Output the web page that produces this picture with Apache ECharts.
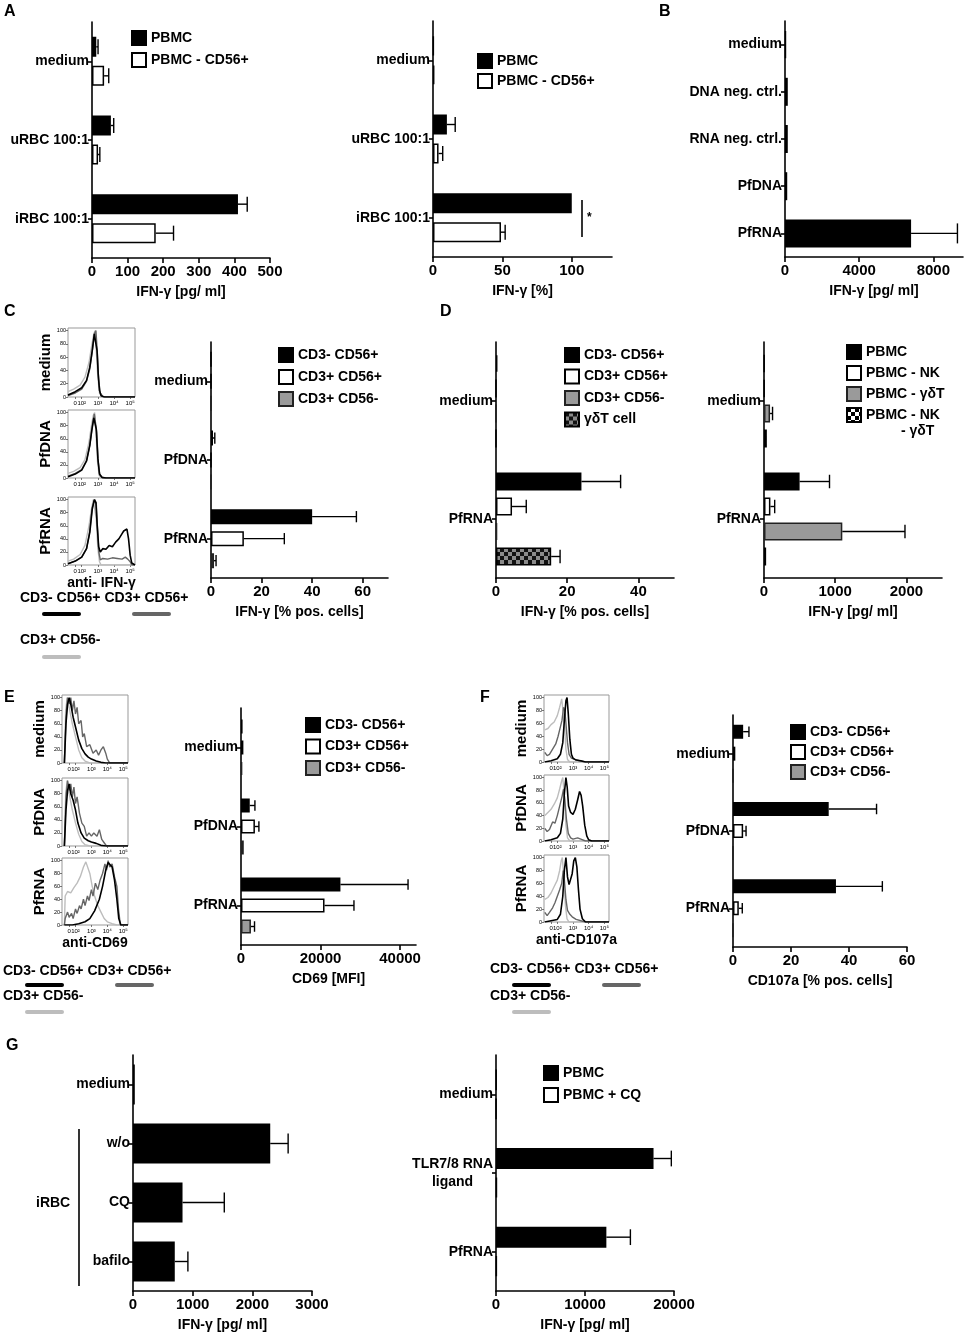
<!DOCTYPE html>
<html>
<head>
<meta charset="utf-8">
<script src="https://cdn.jsdelivr.net/npm/echarts@6/dist/echarts.min.js"></script>
<style>
  html, body { margin: 0; background: #fff; }
  #chart { width: 966px; height: 1339px; }
</style>
</head>
<body>
<div id="chart"></div>
<script>
const FONT = '"Liberation Sans", Arial, sans-serif';

// ---- A: IFN-γ, PBMC vs PBMC depleted of CD56+ ----
const catsA = ['medium', 'uRBC 100:1', 'iRBC 100:1'];
const a1Pbmc = [12, 53, 410];
const a1PbmcSd = [5, 8, 26];
const a1Depl = [34, 17, 179];
const a1DeplSd = [13, 5, 50];
const a2Pbmc = [0.5, 10, 100];
const a2PbmcSd = [0, 6, 0];
const a2Depl = [1, 4, 49];
const a2DeplSd = [0, 3, 3];

// ---- B ----
const catsB = ['medium', 'DNA neg. ctrl.', 'RNA neg. ctrl.', 'PfDNA', 'PfRNA'];
const bPbmc = [50, 150, 150, 120, 6800];
const bPbmcSd = [0, 0, 0, 0, 2500];

// ---- C / E / F bar parts ----
const catsCEF = ['medium', 'PfDNA', 'PfRNA'];
const cNk = [0, 0.8, 40], cNkSd = [0, 0.7, 17.5];
const cNkt = [0, 0, 13], cNktSd = [0, 0, 16];
const cT = [0, 0, 1.2], cTSd = [0, 0, 0.8];

const eNk = [400, 2200, 25000], eNkSd = [0, 1300, 17000];
const eNkt = [600, 3500, 21000], eNktSd = [0, 1000, 7400];
const eT = [300, 700, 2500], eTSd = [0, 200, 900];

const fNk = [3.5, 33, 35.5], fNkSd = [2, 16.5, 16];
const fNkt = [0.8, 3.5, 2], fNktSd = [0, 1, 1.2];
const fT = [0, 0, 0], fTSd = [0, 0, 0];

// ---- D ----
const catsD = ['medium', 'PfRNA'];
const d1Nk = [0.4, 24], d1NkSd = [0, 11];
const d1Nkt = [0, 4.5], d1NktSd = [0, 4];
const d1T = [0, 0.3], d1TSd = [0, 0];
const d1Gd = [0, 15.5], d1GdSd = [0, 2.5];
const d2Pbmc = [5, 500], d2PbmcSd = [0, 420];
const d2Nk = [5, 90], d2NkSd = [0, 60];
const d2Gd = [85, 1100], d2GdSd = [35, 880];
const d2Both = [40, 30], d2BothSd = [10, 10];

// ---- G ----
const catsG1 = ['medium', 'w/o', 'CQ', 'bafilo'];
const g1Pbmc = [30, 2300, 830, 700];
const g1PbmcSd = [10, 300, 700, 220];
const catsG2 = ['medium', 'TLR7/8 RNA\nligand', 'PfRNA'];
const g2Pbmc = [40, 17700, 12400], g2PbmcSd = [0, 2000, 2700];
const g2Cq = [20, 100, 80], g2CqSd = [0, 0, 0];

// ---- flow histograms: x in decades (10^2 -> 2), y in % of max ----
const histTicks = [1.6, 2, 3, 4, 5];
const histTickText = ['0', '10²', '10³', '10⁴', '10⁵'];

const cMedBlk = [[1.15,3],[1.6,8],[2.0,14],[2.3,25],[2.5,45],[2.65,70],[2.78,95],[2.86,97],[2.95,70],[3.02,35],[3.1,10],[3.2,2],[3.4,0],[5.3,0]];
const cMedDk = [[1.15,2],[1.6,6],[2.0,12],[2.3,24],[2.5,42],[2.65,68],[2.8,96],[2.88,100],[2.97,65],[3.05,25],[3.15,6],[3.3,1],[3.5,0],[5.3,0]];
const cMedLt = [[1.15,8],[1.5,12],[1.9,18],[2.2,30],[2.45,52],[2.6,75],[2.75,95],[2.82,100],[2.9,70],[3.0,30],[3.1,6],[3.25,0],[5.3,0]];
const cDnaBlk = [[1.15,2],[1.6,6],[2.0,12],[2.3,26],[2.5,50],[2.62,72],[2.75,92],[2.82,95],[2.9,75],[3.0,30],[3.1,6],[3.25,1],[3.5,0],[5.3,0]];
const cDnaDk = [[1.15,3],[1.6,7],[2.0,13],[2.3,27],[2.5,50],[2.65,78],[2.78,98],[2.85,100],[2.93,70],[3.02,25],[3.12,5],[3.3,0],[5.3,0]];
const cDnaLt = [[1.15,7],[1.5,10],[1.9,16],[2.2,28],[2.45,55],[2.6,80],[2.72,96],[2.8,100],[2.88,70],[2.98,25],[3.08,4],[3.2,0],[5.3,0]];
const cRnaBlk = [[1.15,2],[1.6,6],[2.0,12],[2.3,25],[2.5,50],[2.65,85],[2.78,100],[2.88,95],[2.96,60],[3.05,28],[3.15,20],[3.3,25],[3.5,24],[3.7,30],[3.9,28],[4.1,35],[4.3,40],[4.5,48],[4.6,52],[4.7,50],[4.8,55],[4.9,40],[5.0,15],[5.1,3],[5.2,0],[5.3,0]];
const cRnaDk = [[1.15,2],[1.6,6],[2.0,12],[2.3,25],[2.5,52],[2.65,88],[2.8,100],[2.9,95],[2.98,55],[3.06,20],[3.15,8],[3.3,10],[3.6,9],[3.9,11],[4.2,10],[4.5,9],[4.7,12],[4.85,9],[5.0,5],[5.1,0],[5.3,0]];
const cRnaLt = [[1.15,6],[1.5,9],[1.9,16],[2.2,30],[2.45,60],[2.6,85],[2.72,100],[2.82,98],[2.9,70],[3.0,25],[3.1,5],[3.2,0],[5.3,0]];

const eMedBlk = [[1.3,0],[1.4,60],[1.5,90],[1.6,100],[1.7,90],[1.85,70],[2.0,55],[2.2,35],[2.4,22],[2.6,14],[2.8,9],[3.0,6],[3.3,3],[3.6,1],[3.9,0],[5.3,0]];
const eMedDk = [[1.3,0],[1.4,70],[1.5,100],[1.6,90],[1.7,100],[1.8,80],[1.9,95],[2.0,75],[2.1,85],[2.2,60],[2.35,65],[2.45,40],[2.55,45],[2.7,25],[2.9,28],[3.1,15],[3.3,20],[3.45,12],[3.6,20],[3.75,25],[3.9,15],[4.0,6],[4.15,0],[5.3,0]];
const eMedLt = [[1.3,0],[1.38,80],[1.48,100],[1.6,85],[1.8,60],[2.0,40],[2.2,20],[2.4,8],[2.6,3],[2.9,0],[5.3,0]];
const eDnaBlk = [[1.3,0],[1.4,55],[1.5,85],[1.6,95],[1.7,80],[1.85,70],[2.0,55],[2.15,35],[2.35,20],[2.55,12],[2.8,8],[3.0,6],[3.3,4],[3.6,1],[3.9,0],[5.3,0]];
const eDnaDk = [[1.3,0],[1.4,75],[1.5,100],[1.6,85],[1.7,95],[1.8,75],[1.9,90],[2.0,65],[2.1,75],[2.25,50],[2.4,35],[2.55,30],[2.7,15],[2.85,20],[3.0,15],[3.15,20],[3.35,15],[3.5,25],[3.65,10],[3.8,5],[3.95,0],[5.3,0]];
const eDnaLt = [[1.3,0],[1.38,80],[1.48,100],[1.6,80],[1.8,55],[2.0,35],[2.2,18],[2.4,7],[2.6,2],[2.9,0],[5.3,0]];
const eRnaBlk = [[1.3,0],[1.8,0],[2.2,2],[2.6,5],[2.9,10],[3.2,22],[3.5,40],[3.7,60],[3.9,85],[4.05,97],[4.15,100],[4.3,90],[4.45,70],[4.6,40],[4.72,10],[4.85,0],[5.3,0]];
const eRnaDk = [[1.3,0],[1.35,10],[1.5,20],[1.6,12],[1.75,18],[1.85,10],[2.0,25],[2.1,18],[2.25,30],[2.35,25],[2.5,40],[2.6,30],[2.75,45],[2.85,38],[3.0,55],[3.1,45],[3.25,65],[3.4,55],[3.55,70],[3.7,80],[3.85,95],[3.95,85],[4.05,100],[4.15,90],[4.3,95],[4.45,75],[4.6,60],[4.7,25],[4.82,0],[5.3,0]];
const eRnaLt = [[1.3,0],[1.35,45],[1.5,52],[1.7,50],[1.9,58],[2.1,65],[2.3,75],[2.5,90],[2.65,98],[2.75,95],[2.9,80],[3.05,60],[3.2,45],[3.4,30],[3.6,20],[3.8,10],[4.0,5],[4.3,2],[4.6,0],[5.3,0]];

const fMedBlk = [[1.2,0],[1.6,2],[2.0,5],[2.2,12],[2.35,30],[2.45,65],[2.55,95],[2.62,100],[2.7,75],[2.8,35],[2.9,12],[3.0,6],[3.2,3],[3.5,2],[3.8,0],[5.3,0]];
const fMedDk = [[1.2,15],[1.35,10],[1.5,12],[1.7,20],[1.9,28],[2.05,40],[2.2,55],[2.3,65],[2.4,85],[2.48,80],[2.55,60],[2.65,30],[2.75,12],[2.9,6],[3.1,4],[3.4,2],[3.8,0],[5.3,0]];
const fMedLt = [[1.2,50],[1.4,52],[1.6,58],[1.8,62],[2.0,72],[2.15,85],[2.28,98],[2.35,95],[2.45,60],[2.55,20],[2.65,4],[2.8,0],[5.3,0]];
const fDnaBlk = [[1.2,0],[1.6,2],[2.0,5],[2.2,12],[2.35,35],[2.45,75],[2.55,100],[2.63,85],[2.72,55],[2.85,45],[3.0,42],[3.15,50],[3.3,65],[3.42,78],[3.52,72],[3.62,55],[3.75,25],[3.88,8],[4.0,2],[4.2,0],[5.3,0]];
const fDnaDk = [[1.2,20],[1.35,15],[1.5,18],[1.7,30],[1.85,28],[2.0,40],[2.15,55],[2.3,70],[2.4,82],[2.48,65],[2.58,35],[2.7,12],[2.85,5],[3.0,3],[3.3,5],[3.5,3],[3.8,0],[5.3,0]];
const fDnaLt = [[1.2,40],[1.4,45],[1.6,50],[1.8,58],[2.0,68],[2.15,82],[2.28,95],[2.35,100],[2.45,70],[2.55,25],[2.65,5],[2.8,0],[5.3,0]];
const fRnaBlk = [[1.2,0],[1.6,2],[2.0,4],[2.2,12],[2.35,40],[2.45,80],[2.55,100],[2.65,70],[2.75,58],[2.85,60],[2.95,75],[3.05,95],[3.15,100],[3.25,85],[3.35,50],[3.45,20],[3.6,5],[3.8,0],[5.3,0]];
const fRnaDk = [[1.2,15],[1.35,10],[1.5,15],[1.7,22],[1.85,30],[2.0,40],[2.15,50],[2.28,60],[2.38,80],[2.45,65],[2.55,35],[2.65,18],[2.8,12],[2.95,8],[3.2,4],[3.5,2],[3.8,0],[5.3,0]];
const fRnaLt = [[1.2,35],[1.4,38],[1.6,45],[1.8,55],[2.0,65],[2.15,80],[2.25,95],[2.32,100],[2.42,70],[2.52,25],[2.62,5],[2.75,0],[5.3,0]];

// ---------------------------------------------------------------
function checker(c1, c2, s) {
  const cv = document.createElement('canvas');
  cv.width = cv.height = 2 * s;
  const ctx = cv.getContext('2d');
  ctx.fillStyle = c1; ctx.fillRect(0, 0, 2 * s, 2 * s);
  ctx.fillStyle = c2; ctx.fillRect(0, 0, s, s); ctx.fillRect(s, s, s, s);
  return cv;
}

const sBlack = { color: '#000', borderColor: '#000', borderWidth: 1.5 };
const sWhite = { color: '#fff', borderColor: '#000', borderWidth: 1.5 };
const sGray = { color: '#9a9a9a', borderColor: '#222', borderWidth: 1.5 };
const sCheckGray = { color: { image: checker('#8a8a8a', '#111', 4), repeat: 'repeat' }, borderColor: '#000', borderWidth: 1.5 };
const sCheckWhite = { color: { image: checker('#fff', '#000', 4), repeat: 'repeat' }, borderColor: '#000', borderWidth: 1.5 };

const grids = [], xAxes = [], yAxes = [], series = [], legends = [], graphics = [];
const txt = { color: '#000', fontFamily: FONT, fontWeight: 'bold' };

function errRender(off, cap) {
  return function (params, api) {
    const lo = api.coord([api.value(0), api.value(1)]);
    const hi = api.coord([api.value(2), api.value(1)]);
    if (hi[0] - lo[0] < 0.8) return;
    const y = lo[1] + off;
    const st = { stroke: '#000', lineWidth: 1.4 };
    return { type: 'group', children: [
      { type: 'line', shape: { x1: lo[0], y1: y, x2: hi[0], y2: y }, style: st },
      { type: 'line', shape: { x1: hi[0], y1: y - cap / 2, x2: hi[0], y2: y + cap / 2 }, style: st }
    ] };
  };
}

function addLegend(left, top, gap, names, fmt) {
  legends.push({
    left: left, top: top, padding: 0, orient: 'vertical', icon: 'rect',
    itemWidth: 14, itemHeight: 14, itemGap: gap, selectedMode: false,
    data: names, formatter: fmt, textStyle: Object.assign({ fontSize: 14 }, txt)
  });
}

function barPanel(p) {
  const gi = grids.length;
  grids.push({ left: p.left, top: p.top, width: p.width, height: p.height, outerBoundsMode: 'none' });
  xAxes.push({
    type: 'value', gridIndex: gi, min: 0, max: p.max,
    axisLine: { show: true, lineStyle: { color: '#000', width: 1.6 } },
    axisTick: { show: true, length: 5, customValues: p.ticks, lineStyle: { color: '#000', width: 1.6 } },
    axisLabel: Object.assign({ fontSize: 15, margin: 6, customValues: p.ticks,
      formatter: function (v) { return String(v); } }, txt),
    splitLine: { show: false },
    name: p.title, nameLocation: 'middle', nameGap: 27,
    nameTextStyle: Object.assign({ fontSize: 14 }, txt)
  });
  yAxes.push({
    type: 'category', gridIndex: gi, data: p.cats, inverse: true,
    axisLine: { show: true, lineStyle: { color: '#000', width: 1.6 } },
    axisTick: { show: true, alignWithLabel: true, length: 4, lineStyle: { color: '#000', width: 1.6 } },
    axisLabel: Object.assign({ fontSize: 14, margin: 3, lineHeight: 18 }, txt, p.labelExtra || {}),
    splitLine: { show: false }
  });
  const n = p.names.length, w = p.barWidth, gap = p.gap, step = w + gap;
  const cap = Math.min(w * 0.75, 20);
  p.names.forEach(function (nm, i) {
    series.push({
      type: 'bar', name: nm, xAxisIndex: gi, yAxisIndex: gi, data: p.vals[i],
      barWidth: w, barGap: (gap / w * 100) + '%', itemStyle: p.styles[i], silent: true
    });
    series.push({
      type: 'custom', xAxisIndex: gi, yAxisIndex: gi, z: 5, silent: true,
      data: p.vals[i].map(function (v, k) { return [v, k, v + p.sds[i][k]]; }),
      renderItem: errRender((i - (n - 1) / 2) * step, cap)
    });
  });
  if (p.legend) addLegend(p.legend[0], p.legend[1], p.legend[2], p.names);
}

function histPanel(left, top, w, h, label, curves, bottomName) {
  const gi = grids.length;
  grids.push({ left: left, top: top, width: w, height: h, show: true, borderColor: '#999', borderWidth: 1, outerBoundsMode: 'none' });
  xAxes.push({
    type: 'value', gridIndex: gi, min: 1.15, max: 5.3,
    axisLine: { show: false }, splitLine: { show: false },
    axisTick: { show: true, length: 2, customValues: histTicks, lineStyle: { color: '#555', width: 0.8 } },
    axisLabel: { customValues: histTicks, fontSize: 6, margin: 3, color: '#000', fontFamily: FONT,
      formatter: function (v) { const k = histTicks.indexOf(v); return k < 0 ? '' : histTickText[k]; } },
    name: bottomName || '', nameLocation: 'middle', nameGap: 11,
    nameTextStyle: Object.assign({ fontSize: 14 }, txt)
  });
  yAxes.push({
    type: 'value', gridIndex: gi, min: 0, max: 104, interval: 20,
    axisLine: { show: false }, splitLine: { show: false },
    axisTick: { show: true, length: 2, lineStyle: { color: '#555', width: 0.8 } },
    axisLabel: { fontSize: 5.5, margin: 2, color: '#000', fontFamily: FONT },
    name: label, nameLocation: 'middle', nameRotate: 90, nameGap: 12,
    nameTextStyle: Object.assign({ fontSize: 15 }, txt)
  });
  const cols = ['#bdbdbd', '#666', '#000'];
  curves.forEach(function (c, i) {
    series.push({
      type: 'line', xAxisIndex: gi, yAxisIndex: gi, data: c, showSymbol: false, silent: true,
      lineStyle: { color: cols[i], width: i === 2 ? 1.6 : 1.4 }, z: 2 + i
    });
  });
}

function boldText(text, left, top, size) {
  return { type: 'text', left: left, top: top,
    style: { text: text, fill: '#000', fontSize: size || 14, fontWeight: 'bold', fontFamily: FONT } };
}

function histLegend(x, y1, u1, y2, u2) {
  graphics.push(
    boldText('CD3- CD56+ CD3+ CD56+', x, y1 - 8),
    { type: 'rect', shape: { x: x + 22, y: u1 - 2, width: 39, height: 4, r: 2 }, style: { fill: '#000' } },
    { type: 'rect', shape: { x: x + 112, y: u1 - 2, width: 39, height: 4, r: 2 }, style: { fill: '#666' } },
    boldText('CD3+ CD56-', x, y2 - 8),
    { type: 'rect', shape: { x: x + 22, y: u2 - 2, width: 39, height: 4, r: 2 }, style: { fill: '#bdbdbd' } }
  );
}

const cellNames = ['CD3- CD56+', 'CD3+ CD56+', 'CD3+ CD56-'];
const cellStyles = [sBlack, sWhite, sGray];

// A
barPanel({ left: 92, top: 22, width: 178, height: 236, max: 500, ticks: [0, 100, 200, 300, 400, 500],
  title: 'IFN-γ [pg/ ml]', cats: catsA, names: ['PBMC', 'PBMC - CD56+'],
  vals: [a1Pbmc, a1Depl], sds: [a1PbmcSd, a1DeplSd], styles: [sBlack, sWhite], barWidth: 20, gap: 9,
  legend: [131, 30, 6] });
barPanel({ left: 433, top: 21, width: 179, height: 236, max: 129, ticks: [0, 50, 100],
  title: 'IFN-γ [%]', cats: catsA, names: ['PBMC', 'PBMC - CD56+'],
  vals: [a2Pbmc, a2Depl], sds: [a2PbmcSd, a2DeplSd], styles: [sBlack, sWhite], barWidth: 20, gap: 9,
  legend: [477, 53, 4] });
// B
barPanel({ left: 785, top: 21, width: 178, height: 236, max: 9600, ticks: [0, 4000, 8000],
  title: 'IFN-γ [pg/ ml]', cats: catsB, names: ['PfRNA stim'],
  vals: [bPbmc], sds: [bPbmcSd], styles: [sBlack], barWidth: 28, gap: 0 });
// C
barPanel({ left: 211, top: 342, width: 177, height: 236, max: 70, ticks: [0, 20, 40, 60],
  title: 'IFN-γ [% pos. cells]', cats: catsCEF, names: cellNames,
  vals: [cNk, cNkt, cT], sds: [cNkSd, cNktSd, cTSd], styles: cellStyles, barWidth: 15, gap: 7,
  legend: [278, 347, 6] });
// D
barPanel({ left: 496, top: 342, width: 178, height: 236, max: 50, ticks: [0, 20, 40],
  title: 'IFN-γ [% pos. cells]', cats: catsD, names: cellNames.concat(['γδT cell']),
  vals: [d1Nk, d1Nkt, d1T, d1Gd], sds: [d1NkSd, d1NktSd, d1TSd, d1GdSd],
  styles: [sBlack, sWhite, sGray, sCheckGray], barWidth: 18, gap: 7, legend: [564, 347, 5.5] });
barPanel({ left: 764, top: 342, width: 178, height: 236, max: 2500, ticks: [0, 1000, 2000],
  title: 'IFN-γ [pg/ ml]', cats: catsD, names: ['PBMC', 'PBMC - NK', 'PBMC - γδT', 'PBMC - NK - γδT'],
  vals: [d2Pbmc, d2Nk, d2Gd, d2Both], sds: [d2PbmcSd, d2NkSd, d2GdSd, d2BothSd],
  styles: [sBlack, sWhite, sGray, sCheckWhite], barWidth: 18, gap: 7 });
addLegend(846, 344, 5, ['PBMC', 'PBMC - NK', 'PBMC - γδT', 'PBMC - NK - γδT'],
  function (nm) { return nm === 'PBMC - NK - γδT' ? 'PBMC - NK' : nm; });
// E
barPanel({ left: 241, top: 708, width: 175, height: 237, max: 44000, ticks: [0, 20000, 40000],
  title: 'CD69 [MFI]', cats: catsCEF, names: cellNames,
  vals: [eNk, eNkt, eT], sds: [eNkSd, eNktSd, eTSd], styles: cellStyles, barWidth: 14, gap: 7,
  legend: [305, 717, 5.5] });
// F
barPanel({ left: 733, top: 715, width: 174, height: 232, max: 60, ticks: [0, 20, 40, 60],
  title: 'CD107a [% pos. cells]', cats: catsCEF, names: cellNames,
  vals: [fNk, fNkt, fT], sds: [fNkSd, fNktSd, fTSd], styles: cellStyles, barWidth: 14, gap: 8,
  legend: [790, 724, 4] });
// G
barPanel({ left: 133, top: 1055, width: 179, height: 236, max: 3000, ticks: [0, 1000, 2000, 3000],
  title: 'IFN-γ [pg/ ml]', cats: catsG1, names: ['PBMC iRBC'],
  vals: [g1Pbmc], sds: [g1PbmcSd], styles: [sBlack], barWidth: 40, gap: 0 });
barPanel({ left: 496, top: 1055, width: 178, height: 236, max: 20000, ticks: [0, 10000, 20000],
  title: 'IFN-γ [pg/ ml]', cats: catsG2, names: ['PBMC', 'PBMC + CQ'],
  vals: [g2Pbmc, g2Cq], sds: [g2PbmcSd, g2CqSd], styles: [sBlack, sWhite], barWidth: 21, gap: 8,
  legend: [543, 1065, 6],
  labelExtra: { formatter: function (v) { return v.indexOf('\n') < 0 ? v : '{a|TLR7/8 RNA}\n{b|ligand}'; },
    rich: { a: { fontSize: 14, fontWeight: 'bold', fontFamily: FONT, color: '#000' },
            b: { fontSize: 14, fontWeight: 'bold', fontFamily: FONT, color: '#000', width: 81, align: 'center' } } } });

// histograms
histPanel(68, 328, 67, 69, 'medium', [cMedLt, cMedDk, cMedBlk]);
histPanel(68, 410, 67, 68, 'PfDNA', [cDnaLt, cDnaDk, cDnaBlk]);
histPanel(68, 497, 67, 68, 'PfRNA', [cRnaLt, cRnaDk, cRnaBlk], 'anti- IFN-γ');
histPanel(62, 695, 66, 68, 'medium', [eMedLt, eMedDk, eMedBlk]);
histPanel(62, 778, 66, 68, 'PfDNA', [eDnaLt, eDnaDk, eDnaBlk]);
histPanel(62, 858, 66, 67, 'PfRNA', [eRnaLt, eRnaDk, eRnaBlk], 'anti-CD69');
histPanel(544, 695, 65, 67, 'medium', [fMedLt, fMedDk, fMedBlk]);
histPanel(544, 775, 65, 66, 'PfDNA', [fDnaLt, fDnaDk, fDnaBlk]);
histPanel(544, 855, 65, 67, 'PfRNA', [fRnaLt, fRnaDk, fRnaBlk], 'anti-CD107a');

histLegend(20, 599, 614, 641, 657);
histLegend(3, 972, 985, 997, 1012);
histLegend(490, 970, 985, 997, 1012);

// panel letters and annotations
[['A', 4, 4], ['B', 659, 4], ['C', 4, 304], ['D', 440, 304], ['E', 4, 690], ['F', 480, 690], ['G', 6, 1038]]
  .forEach(function (l) { graphics.push(boldText(l[0], l[1], l[2], 16)); });
graphics.push(
  { type: 'line', shape: { x1: 582, y1: 200, x2: 582, y2: 237 }, style: { stroke: '#000', lineWidth: 1.6 } },
  boldText('*', 587, 212, 12),
  { type: 'line', shape: { x1: 79, y1: 1129, x2: 79, y2: 1286 }, style: { stroke: '#000', lineWidth: 1.6 } },
  boldText('iRBC', 36, 1196),
  boldText('- γδT', 901, 424)
);

const chart = echarts.init(document.getElementById('chart'), null, { renderer: 'canvas' });
chart.setOption({
  animation: false,
  backgroundColor: '#fff',
  textStyle: { fontFamily: FONT },
  grid: grids, xAxis: xAxes, yAxis: yAxes, series: series, legend: legends,
  graphic: graphics
});
</script>
</body>
</html>
